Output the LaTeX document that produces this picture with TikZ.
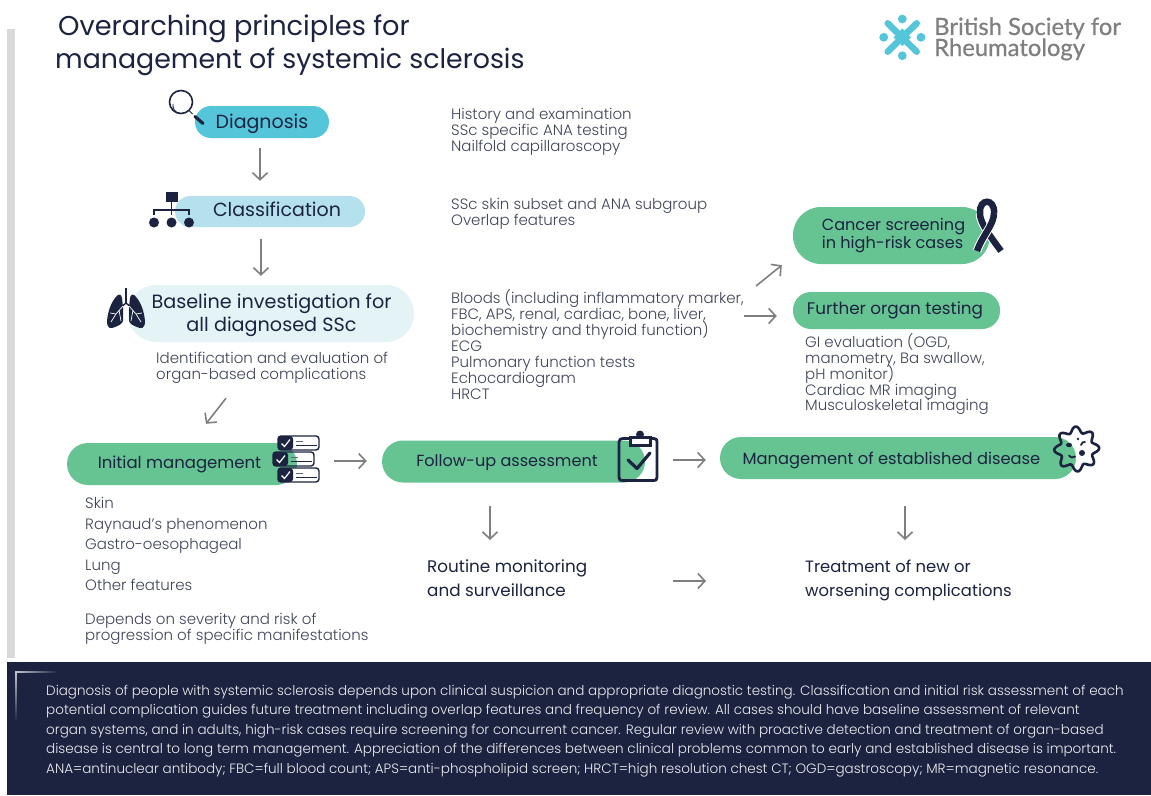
\documentclass[tikz,border=0pt]{standalone}
\usepackage{fontspec}
\usetikzlibrary{arrows.meta}
\setmainfont{Poppins}
\newfontfamily\lightf{Poppins Light}
\newfontfamily\logofont[FakeBold=0.6]{Lato}
\newcommand\fs[2]{\fontsize{#1}{#2}\selectfont\lineskiplimit=-30pt\relax}
\definecolor{navy}{HTML}{1C2340}
\definecolor{bodyg}{HTML}{3F445A}
\definecolor{arrg}{HTML}{7F7F7F}
\definecolor{teal}{HTML}{55C5DA}
\definecolor{ltblue}{HTML}{B4E1EB}
\definecolor{pale}{HTML}{E4F3F6}
\definecolor{green1}{HTML}{66C392}
\definecolor{sidebar}{HTML}{DAD9D7}
\tikzset{
 x=1pt,y=-1pt,
 bodytext/.style={anchor=north west,inner sep=0,align=left,text=bodyg,font=\lightf\fs{15}{16}},
 lab/.style={inner sep=0,align=center,text=navy},
 arr/.style={draw=arrg,line width=1.6pt,-{Straight Barb[length=7pt,width=15pt,line width=1.6pt]}},
 ic/.style={navy,line width=2.8pt,line cap=round,line join=round},
 chkrow/.style={draw=navy,line width=1.4pt,rounded corners=3pt},
}
\begin{document}
\begin{tikzpicture}
\useasboundingbox (0,0) rectangle (1151,795);
\fill[white] (0,0) rectangle (1151,795);
\fill[sidebar] (7,29) rectangle (15,658);
\node[anchor=base west,inner sep=0,text=navy,font=\fs{27.2}{30}] (t1) at (58,35) {Overarching principles for};
\node[anchor=base west,inner sep=0,text=navy,font=\fs{26.8}{30}] (t2) at (55,68) {management of systemic sclerosis};
% logo
\foreach \a/\b in {902.3/19,902.3/55.7,883.7/37.3,921/37.3}{\fill[teal] (\a,\b) circle (4.4);}
\draw[teal,line width=6.5pt,line cap=round] (887.7,23.3) -- (916.7,51.7) (916.7,23.3) -- (887.7,51.7);
\fill[teal] (902.3,28.5) -- (911,37.3) -- (902.3,46) -- (893.5,37.3) -- cycle;
\node[anchor=base west,inner sep=0,align=left,text=arrg,font=\logofont\fs{23.8}{21}] (logo) at (934,56) {British Society for\\Rheumatology};
% pills
\node[fill=teal,rounded corners=16pt,minimum width=134pt,minimum height=32pt,inner sep=0] (diag) at (262,122) {};
\node[lab,font=\fs{19}{22}] (diagt) at (262,124) {Diagnosis};
\node[fill=ltblue,rounded corners=15.5pt,minimum width=190pt,minimum height=31pt,inner sep=0] (class) at (270,211.5) {};
\node[lab,font=\fs{19}{22}] (classt) at (277,209) {Classification};
\node[fill=pale,rounded corners=28pt,minimum width=286pt,minimum height=57pt,inner sep=0] (base) at (271,313.5) {};
\node[lab,font=\fs{19.2}{23}] (baset) at (271.5,315) {Baseline investigation for\\all diagnosed SSc};
\node[fill=green1,rounded corners=28pt,minimum width=197pt,minimum height=57pt,inner sep=0] (cancer) at (891.5,235.5) {};
\node[lab,font=\fs{16.1}{18},align=left] (cancert) at (893.5,236) {Cancer screening\\in high-risk cases};
\node[fill=green1,rounded corners=18pt,minimum width=207pt,minimum height=37pt,inner sep=0] (further) at (896.5,310.5) {};
\node[lab,font=\fs{16.8}{20}] (furthert) at (895,310) {Further organ testing};
\node[fill=green1,rounded corners=21pt,minimum width=230pt,minimum height=42pt,inner sep=0] (init) at (182,464) {};
\node[lab,font=\fs{16.5}{20}] (initt) at (179.5,464) {Initial management};
\node[fill=green1,rounded corners=21pt,minimum width=263pt,minimum height=42pt,inner sep=0] (follow) at (513.5,461.5) {};
\node[lab,font=\fs{16.1}{20}] (followt) at (507,463) {Follow-up assessment};
\node[fill=green1,rounded corners=21pt,minimum width=356pt,minimum height=42pt,inner sep=0] (mgmt) at (898,458) {};
\node[lab,font=\fs{16.3}{20}] (mgmtt) at (891.5,460) {Management of established disease};
\node[lab,font=\fs{16.8}{24},align=left,anchor=north west] (routine) at (427,560) {Routine monitoring\\and surveillance};
\node[lab,font=\fs{16.4}{24},align=left,anchor=north west] (treat) at (805,560) {Treatment of new or\\worsening complications};
% body
\node[bodytext] (b1) at (451,108.5) {History and examination\\SSc specific ANA testing\\Nailfold capillaroscopy};
\node[bodytext] (b2) at (451,198.5) {SSc skin subset and ANA subgroup\\Overlap features};
\node[bodytext] (b3) at (451,289) {Bloods (including inflammatory marker,\\FBC, APS, renal, cardiac, bone, liver,\\biochemistry and thyroid function)\\ECG\\Pulmonary function tests\\Echocardiogram\\HRCT};
\node[bodytext] (b4) at (156,352) {Identification and evaluation of\\organ-based complications};
\node[bodytext,font=\lightf\fs{15}{15.8}] (b5) at (805,333.5) {GI evaluation (OGD,\\manometry, Ba swallow,\\pH monitor)\\Cardiac MR imaging\\Musculoskeletal imaging};
\node[bodytext,font=\lightf\fs{15}{20.5}] (b6) at (85,497.5) {Skin\\Raynaud’s phenomenon\\Gastro-oesophageal\\Lung\\Other features};
\node[bodytext] (b7) at (85,612.5) {Depends on severity and risk of\\progression of specific manifestations};
% footer
\fill[navy] (7,662) rectangle (1151,795);
\node[anchor=north west,inner sep=0,align=left,text=white!92!navy,font=\lightf\fs{13.54}{19.5}] (foot) at (46,685) {Diagnosis of people with systemic sclerosis depends upon clinical suspicion and appropriate diagnostic testing. Classification and initial risk assessment of each\\potential complication guides future treatment including overlap features and frequency of review.  All cases should have baseline assessment of relevant\\organ systems, and in adults, high-risk cases require screening for concurrent cancer.  Regular review with proactive detection and treatment of organ-based\\disease is central to long term management.  Appreciation of the differences between clinical problems common to early and established disease is important.\\ANA=antinuclear antibody; FBC=full blood count; APS=anti-phospholipid screen; HRCT=high resolution chest CT; OGD=gastroscopy; MR=magnetic resonance.};
\shade[left color=white!75!navy,right color=navy] (15,671) rectangle (58,672.5);
\shade[top color=white!75!navy,bottom color=navy] (15,671) rectangle (16.5,722);
% arrows
\draw[arr] ([xshift=-2pt,yshift=-10pt]diag.south) -- ([xshift=-10pt,yshift=15pt]class.north);
\draw[arr] ([xshift=-9pt,yshift=-12pt]class.south) -- ([xshift=-10pt,yshift=9pt]base.north);
\draw[arr] ([xshift=-45pt,yshift=-56pt]base.south) -- ([xshift=24pt,yshift=19pt]init.north);
\draw[arr] ([xshift=37pt,yshift=3pt]init.east) -- ([xshift=-15pt,yshift=0.5pt]follow.west);
\draw[arr] ([xshift=28pt,yshift=1.5pt]follow.east) -- ([xshift=-14pt,yshift=-2pt]mgmt.west);
\draw[arr] ([xshift=-23.5pt,yshift=-23.5pt]follow.south) -- ([xshift=63pt,yshift=20pt]routine.north west);
\draw[arr] ([xshift=7pt,yshift=-27pt]mgmt.south) -- ([xshift=100pt,yshift=20pt]treat.north west);
\draw[arr] ([xshift=246pt,yshift=-21pt]routine.north west) -- ([xshift=-99pt,yshift=-21pt]treat.north west);
\draw[arr] ([xshift=305pt,yshift=3pt]b3.north west) -- ([xshift=-11pt,yshift=-1pt]cancer.south west);
\draw[arr] ([xshift=293pt,yshift=-27pt]b3.north west) -- ([xshift=-16pt,yshift=-5.5pt]further.west);
% magnifier
\draw[navy,line width=1.6pt] (181,102) circle (11.5);
\draw[navy,line width=0.9pt] (173,104) arc (190:100:8.2);
\draw[navy,line width=1pt] (189,110.5) -- (192.5,114);
\draw[navy,line width=3.2pt,line cap=round] (195,116.5) -- (203,123.5);
% hierarchy
\fill[navy] (166,192) rectangle (178,202);
\draw[navy,line width=1.5pt] (154,215) -- (154,210) -- (189,210) -- (189,215) (171.5,202) -- (171.5,215);
\foreach \a in {154,171.5,189}{\fill[navy] (\a,222.5) circle (5);}
% lungs
\fill[navy] (118,295) .. controls (112,300) and (108,310) .. (107,321) .. controls (107,329) and (111,329) .. (115,327) .. controls (118,326) and (122,324) .. (123,321) -- (123,307) -- (122,298) .. controls (121,294) and (119,294) .. (118,295) -- cycle;
\fill[navy] (134,295) .. controls (140,300) and (144,310) .. (145,321) .. controls (145,329) and (141,329) .. (137,327) .. controls (134,326) and (130,324) .. (129,321) -- (129,307) -- (130,298) .. controls (131,294) and (133,294) .. (134,295) -- cycle;
\draw[navy,line width=2pt] (126,288) -- (126,303);
\draw[navy,line width=1.4pt] (126,303) -- (120,308) (126,303) -- (132,308);
\draw[white,line width=0.7pt] (123,306) -- (116,314) -- (111,322) (116,314) -- (110,313) (119,310) -- (121,321);
\draw[white,line width=0.7pt] (129,306) -- (136,314) -- (141,322) (136,314) -- (142,313) (133,310) -- (131,321);
% ribbon
\draw[white,line width=8.5pt] (1001,251) .. controls (993,240) and (979,222) .. (980,213);
\draw[navy,line width=6.5pt] (1001,251) .. controls (993,240) and (979,222) .. (980,213) .. controls (979,198) and (995,198) .. (994,213);
\draw[white,line width=8.5pt] (994,214) .. controls (994,225) and (982,236) .. (977,251);
\draw[navy,line width=6.5pt] (994,213) .. controls (994,225) and (982,236) .. (977,251);
% checklist
\foreach \a/\b/\f in {278/436/white,278/468/white,273/452/none}{
 \draw[chkrow,fill=\f] (\a,\b) rectangle ++(41,14);
 \fill[navy,rounded corners=3pt] (\a,\b) rectangle ++(15,14);
 \draw[white,line width=1.2pt] (\a+3.5,\b+7.5) -- (\a+6.5,\b+10.5) -- (\a+12,\b+3.5);
 \draw[navy,line width=1.2pt] (\a+18,\b+9.5) -- (\a+39,\b+9.5);
 \draw[navy!70,line width=1.2pt] (\a+18,\b+5.5) -- (\a+25,\b+5.5);
}
% clipboard
\draw[ic] (624,438.5) -- (630,438.5) (651,438.5) -- (654,438.5) .. controls (656.5,438.5) and (657,440) .. (657,442) -- (657,477) .. controls (657,480) and (656,480.5) .. (654,480.5) -- (622,480.5) .. controls (620,480.5) and (619,480) .. (619,477) -- (619,442) .. controls (619,440) and (620,438.5) .. (624,438.5);
\fill[navy] (629,436) rectangle (652,447);
\fill[white] (632,438.5) rectangle (649,444);
\fill[navy] (640,434.5) circle (4);
\draw[ic,line width=3.2pt] (628,460) -- (637,468.5) -- (650,453);
% virus
\draw[navy,line width=2.6pt,line join=round] plot[domain=0:360,samples=97,smooth] ({1076.7+(19.5+3*cos(8*\x+20))*cos(\x)},{449+(19.5+3*cos(8*\x+20))*sin(\x)}) -- cycle;
\fill[navy] (1082,453) circle (3);
\fill[navy] (1069,445) ellipse (3 and 2.2);
\fill[navy] (1078,439) circle (1.4);
\draw[navy,line width=1.8pt,line cap=round] (1069,455.5) .. controls (1071,458) and (1073,458) .. (1075,456.5);
\draw[navy,line width=1.8pt,line cap=round] (1081,445) .. controls (1082,442) and (1083,442) .. (1085,442);
\end{tikzpicture}
\end{document}
